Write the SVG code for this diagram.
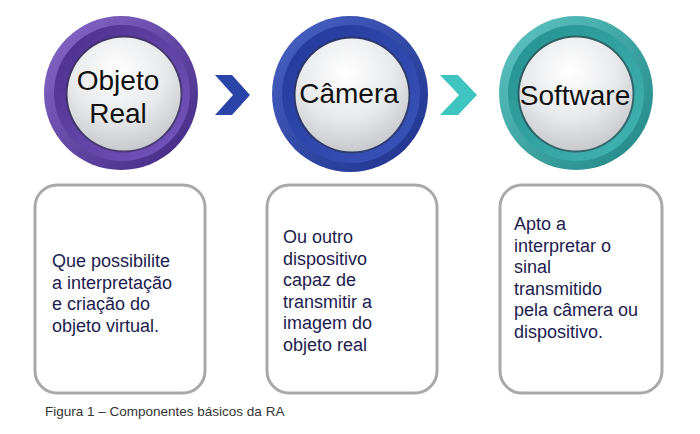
<svg xmlns="http://www.w3.org/2000/svg" width="700" height="434" viewBox="0 0 700 434">
<style>
.lbl{font-family:"Liberation Sans",Arial,sans-serif;font-size:28px;fill:#111;text-anchor:middle}
.txt{font-family:"Liberation Sans",Arial,sans-serif;font-size:18px;fill:#1c1c4e}
.cap{font-family:"Liberation Sans",Arial,sans-serif;font-size:13.5px;fill:#333}
.box{fill:#fff;stroke:#a9a9a9;stroke-width:3}
.face{fill:url(#face)}
.edge{fill:#2e2e3a;opacity:0.55}
</style>
<defs>
<radialGradient id="face" cx="0.45" cy="0.3" r="0.75">
<stop offset="0" stop-color="#ffffff"/>
<stop offset="0.55" stop-color="#e8e9eb"/>
<stop offset="1" stop-color="#c2c4c8"/>
</radialGradient>
<linearGradient id="p1" x1="0" y1="0" x2="1" y2="1"><stop offset="0" stop-color="#8a6bcc"/><stop offset="1" stop-color="#3f2680"/></linearGradient>
<linearGradient id="p2" x1="0" y1="0" x2="1" y2="1"><stop offset="0" stop-color="#4a2e8c"/><stop offset="1" stop-color="#7657c0"/></linearGradient>
<linearGradient id="b1" x1="0" y1="0" x2="1" y2="1"><stop offset="0" stop-color="#4a63c4"/><stop offset="1" stop-color="#1e318c"/></linearGradient>
<linearGradient id="b2" x1="0" y1="0" x2="1" y2="1"><stop offset="0" stop-color="#24389a"/><stop offset="1" stop-color="#3a55bc"/></linearGradient>
<linearGradient id="t1" x1="0" y1="0" x2="1" y2="1"><stop offset="0" stop-color="#5fc6c4"/><stop offset="1" stop-color="#1f8584"/></linearGradient>
<linearGradient id="t2" x1="0" y1="0" x2="1" y2="1"><stop offset="0" stop-color="#23908f"/><stop offset="1" stop-color="#42b5b2"/></linearGradient>
</defs>

<g id="node-objeto">
<circle cx="121" cy="93" r="77" fill="url(#p1)"/>
<circle cx="122" cy="93" r="68" fill="url(#p2)"/>
<circle cx="124" cy="94" r="58.5" class="edge"/>
<circle cx="124" cy="94" r="56.5" class="face"/>
<text class="lbl" x="118" y="90">Objeto</text>
<text class="lbl" x="118" y="123">Real</text>
</g>

<g id="node-camera">
<circle cx="350" cy="94" r="78" fill="url(#b1)"/>
<circle cx="351" cy="94" r="69" fill="url(#b2)"/>
<circle cx="352" cy="95" r="58.5" class="edge"/>
<circle cx="352" cy="95" r="56.5" class="face"/>
<text class="lbl" x="349" y="103">Câmera</text>
</g>

<g id="node-software">
<circle cx="576" cy="93" r="77" fill="url(#t1)"/>
<circle cx="576" cy="93" r="68" fill="url(#t2)"/>
<circle cx="576" cy="94" r="58.5" class="edge"/>
<circle cx="576" cy="94" r="56.5" class="face"/>
<text class="lbl" x="575" y="105">Software</text>
</g>

<g id="connectors">
<polygon points="215,75 232,75 250,95 232,115 215,115 233,95" fill="#2a44a8"/>
<polygon points="440,75 458,75 477,95 458,115 440,115 459,95" fill="#3ec5bf"/>
</g>

<g id="box-objeto">
<rect class="box" x="35" y="185" width="170" height="208" rx="22"/>
<text class="txt" x="52" y="267">Que possibilite</text>
<text class="txt" x="52" y="288.5">a interpretação</text>
<text class="txt" x="52" y="310">e criação do</text>
<text class="txt" x="52" y="331.5">objeto virtual.</text>
</g>

<g id="box-camera">
<rect class="box" x="267" y="185" width="170" height="208" rx="22"/>
<text class="txt" x="283" y="243">Ou outro</text>
<text class="txt" x="283" y="264.5">dispositivo</text>
<text class="txt" x="283" y="286">capaz de</text>
<text class="txt" x="283" y="307.5">transmitir a</text>
<text class="txt" x="283" y="329">imagem do</text>
<text class="txt" x="283" y="350.5">objeto real</text>
</g>

<g id="box-software">
<rect class="box" x="500" y="185" width="162" height="208" rx="22"/>
<text class="txt" x="514" y="230">Apto a</text>
<text class="txt" x="514" y="251.5">interpretar o</text>
<text class="txt" x="514" y="273">sinal</text>
<text class="txt" x="514" y="294.5">transmitido</text>
<text class="txt" x="514" y="316">pela câmera ou</text>
<text class="txt" x="514" y="337.5">dispositivo.</text>
</g>

<text class="cap" x="45" y="416">Figura 1 – Componentes básicos da RA</text>
</svg>
